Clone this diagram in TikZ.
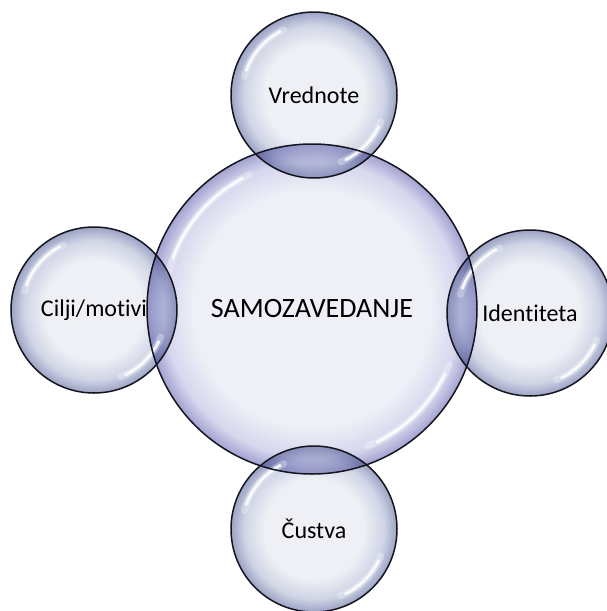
\documentclass[tikz,border=0pt]{standalone}
\usepackage{fontspec}
\setmainfont{Carlito}[Ligatures=NoCommon]
\definecolor{mainin}{HTML}{EFEFF7}
\definecolor{mainmid}{HTML}{D6D6EE}
\definecolor{mainrim}{HTML}{A2A2D0}
\definecolor{satin}{HTML}{EEF0F5}
\definecolor{satmid}{HTML}{D0D5E6}
\definecolor{satrim}{HTML}{9CA3C4}
\definecolor{ink}{HTML}{15151F}
\pgfdeclareradialshading{mainbubble}{\pgfpoint{0bp}{0bp}}{%
  color(0bp)=(mainin); color(18bp)=(mainin); color(22.5bp)=(mainmid);
  color(25bp)=(mainrim); color(50bp)=(mainrim)}
\pgfdeclareradialshading{satbubble}{\pgfpoint{0bp}{0bp}}{%
  color(0bp)=(satin); color(15bp)=(satin); color(21bp)=(satmid);
  color(25bp)=(satrim); color(50bp)=(satrim)}
\tikzset{
  bubble/.style={circle, inner sep=0pt, text=black,
    font=\fontsize{24}{26}\selectfont},
  mainball/.style={bubble, shading=mainbubble, minimum size=330pt,
    font=\fontsize{28}{30}\selectfont},
  satball/.style={bubble, shading=satbubble, minimum size=166pt,
    blend mode=multiply},
  rimline/.style={draw=ink, line width=1.5pt},
  gloss/.style={white, line cap=round, line width=3pt, opacity=0.85},
  softgloss/.style={white, line cap=round, line width=7pt, opacity=0.3}
}
\newcommand{\shine}[2]{%
  \draw[softgloss] (#1.center) ++(115:#2) arc[start angle=115, end angle=165, radius=#2];
  \draw[gloss] (#1.center) ++(118:#2) arc[start angle=118, end angle=160, radius=#2];
  \draw[softgloss] (#1.center) ++(292:#2) arc[start angle=292, end angle=338, radius=#2];
  \draw[gloss] (#1.center) ++(296:#2) arc[start angle=296, end angle=334, radius=#2];}
\begin{document}
\begin{tikzpicture}[x=1pt, y=-1pt]
  \useasboundingbox (0,0) rectangle (606,611);
  % central bubble and the four satellites
  \node[mainball] (core) at (312,309) {};
  \node[satball] (top) at (314,95) {};
  \node[satball] (left) at (94,310) {};
  \node[satball] (right) at (530,313) {};
  \node[satball] (bottom) at (314,529) {};
  % glossy highlights
  \shine{core}{148pt}
  \foreach \n in {top,left,right,bottom} {\shine{\n}{72pt}}
  % outlines on top of all fills
  \draw[rimline] (core.center) circle[radius=165pt];
  \foreach \n in {top,left,right,bottom}
    \draw[rimline] (\n.center) circle[radius=83pt];
  % labels
  \node[font=\fontsize{28}{30}\selectfont] (coretext) at (core.center) {SAMOZAVEDANJE};
  \node[font=\fontsize{24}{26}\selectfont] (toptext) at (top.center) {Vrednote};
  \node[font=\fontsize{24}{26}\selectfont] (lefttext) at (left.center) {Cilji/motivi};
  \node[font=\fontsize{24}{26}\selectfont] (righttext) at (right.center) {Identiteta};
  \node[font=\fontsize{24}{26}\selectfont] (bottomtext) at (bottom.center) {Čustva};
\end{tikzpicture}
\end{document}
